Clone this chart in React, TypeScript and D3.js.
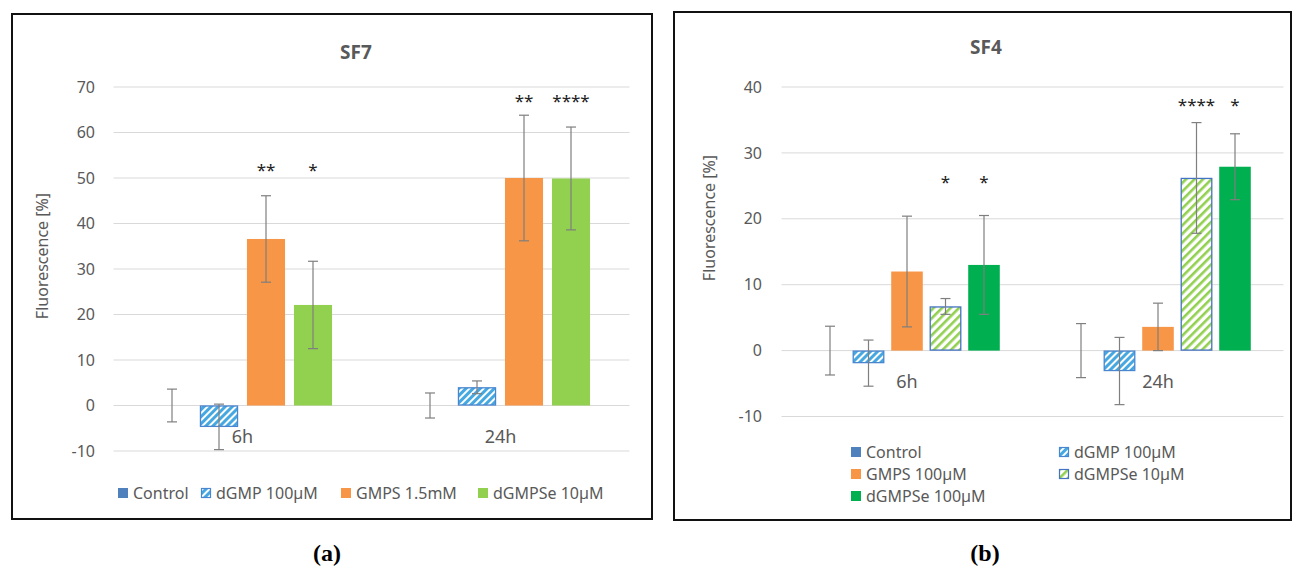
import React from "react";
import * as d3 from "d3";

const categories = ["6h", "24h"];

// SF7 panel
const sf7Series = ["Control", "dGMP 100µM", "GMPS 1.5mM", "dGMPSe 10µM"];
const sf7Control = [0, 0];
const sf7ControlErr = [3.6, 2.75];
const sf7Dgmp = [-4.7, 4.0];
const sf7DgmpErr = [5.0, 1.4];
const sf7Gmps = [36.6, 50.0];
const sf7GmpsErr = [9.5, 13.8];
const sf7Dgmpse = [22.1, 49.9];
const sf7DgmpseErr = [9.6, 11.3];
const sf7Stars = [
  ["", "", "**", "*"],
  ["", "", "**", "****"],
];
const sf7StarLevel = [52.7, 67.9];
const sf7Ticks = [-10, 0, 10, 20, 30, 40, 50, 60, 70];

// SF4 panel
const sf4Series = ["Control", "dGMP 100µM", "GMPS 100µM", "dGMPSe 10µM", "dGMPSe 100µM"];
const sf4Control = [0, 0];
const sf4ControlErr = [3.7, 4.1];
const sf4Dgmp = [-1.9, -3.1];
const sf4DgmpErr = [3.5, 5.1];
const sf4Gmps = [12.0, 3.6];
const sf4GmpsErr = [8.4, 3.6];
const sf4Dgmpse10 = [6.7, 26.2];
const sf4Dgmpse10Err = [1.2, 8.4];
const sf4Dgmpse100 = [13.0, 27.9];
const sf4Dgmpse100Err = [7.5, 5.0];
const sf4Stars = [
  ["", "", "", "*", "*"],
  ["", "", "", "****", "*"],
];
const sf4StarLevel = [26.2, 37.8];
const sf4Ticks = [-10, 0, 10, 20, 30, 40];

const FONT = "'Noto Sans', sans-serif";
const GREY = "#595959";

type Style = { fill: string; stroke?: string };

const STYLE: Record<string, Style> = {
  control: { fill: "#4F81BD" },
  dgmp: { fill: "url(#hatchBlue)", stroke: "#4A86D0" },
  gmps: { fill: "#F79646" },
  dgmpseLight: { fill: "#92D050" },
  dgmpse10: { fill: "url(#hatchGreen)", stroke: "#4472C4" },
  dgmpse100: { fill: "#00B050" },
};

type PanelProps = {
  title: string;
  titleX: number;
  titleY: number;
  series: string[];
  styles: Style[];
  values: number[][];
  errors: number[][];
  stars: string[][];
  starLevel: number[];
  ticks: number[];
  yDomain: [number, number];
  yRange: [number, number];
  xRange: [number, number];
  groupWidth: number;
  padInner: number;
  tickX: number;
  labelX: number;
  labelY: number;
  legend: { x: number; y: number }[];
};

function Panel(p: PanelProps) {
  const y = d3.scaleLinear().domain(p.yDomain).range(p.yRange);
  const x0 = d3.scaleBand<string>().domain(categories).range(p.xRange).padding(0);
  const off = (x0.bandwidth() - p.groupWidth) / 2;
  const x1 = d3
    .scaleBand<string>()
    .domain(p.series)
    .range([off, off + p.groupWidth])
    .paddingInner(p.padInner)
    .paddingOuter(p.padInner / 2);
  const bw = x1.bandwidth();
  const y0 = y(0);
  const [gx0, gx1] = p.xRange;
  return (
    <g>
      <text x={p.titleX} y={p.titleY} textAnchor="middle" fontFamily={FONT} fontWeight="bold" fontSize={19} fill={GREY}>
        {p.title}
      </text>
      {p.ticks.map((t) => (
        <g key={t}>
          <line x1={gx0} x2={gx1} y1={y(t)} y2={y(t)} stroke="#d9d9d9" strokeWidth={1} />
          <text x={p.tickX} y={y(t)} dy="0.35em" textAnchor="end" fontFamily={FONT} fontSize={16} fill={GREY}>
            {t}
          </text>
        </g>
      ))}
      <text
        transform={`translate(${p.labelX},${p.labelY}) rotate(-90)`}
        textAnchor="middle"
        fontFamily={FONT}
        fontSize={16}
        fill={GREY}
      >
        Fluorescence [%]
      </text>
      {categories.map((c, ci) => (
        <g key={c} transform={`translate(${x0(c)},0)`}>
          {p.series.map((s, si) => {
            const v = p.values[si][ci];
            const e = p.errors[si][ci];
            const st = p.styles[si];
            const bx = x1(s)!;
            const cx = bx + bw / 2;
            const top = Math.min(y(v), y0);
            const h = Math.abs(y(v) - y0);
            return (
              <g key={s}>
                {h > 0 && (
                  <rect
                    x={bx + (st.stroke ? 0.5 : 0)}
                    y={top + (st.stroke ? 0.5 : 0)}
                    width={bw - (st.stroke ? 1 : 0)}
                    height={Math.max(0, h - (st.stroke ? 1 : 0))}
                    fill={st.fill}
                    stroke={st.stroke || "none"}
                    strokeWidth={st.stroke ? 1.3 : 0}
                  />
                )}
                <line x1={cx} x2={cx} y1={y(v + e)} y2={y(v - e)} stroke="#7f7f7f" strokeWidth={1.2} />
                <line x1={cx - 5} x2={cx + 5} y1={y(v + e)} y2={y(v + e)} stroke="#7f7f7f" strokeWidth={1.2} />
                <line x1={cx - 5} x2={cx + 5} y1={y(v - e)} y2={y(v - e)} stroke="#7f7f7f" strokeWidth={1.2} />
                {p.stars[ci][si] && (
                  <text x={cx} y={y(p.starLevel[ci]) + 10} textAnchor="middle" fontFamily={FONT} fontSize={17} fill="#222">
                    {p.stars[ci][si]}
                  </text>
                )}
              </g>
            );
          })}
          <text
            x={x0.bandwidth() / 2}
            y={y0 + 37}
            textAnchor="middle"
            fontFamily={FONT}
            fontSize={18}
            fill={GREY}
          >
            {c}
          </text>
        </g>
      ))}
      {p.series.map((s, si) => {
        const L = p.legend[si];
        const st = p.styles[si];
        return (
          <g key={s}>
            <rect
              x={L.x + (st.stroke ? 0.5 : 0)}
              y={L.y - 5 + (st.stroke ? 0.5 : 0)}
              width={st.stroke ? 9 : 10}
              height={st.stroke ? 9 : 10}
              fill={st.fill}
              stroke={st.stroke || "none"}
              strokeWidth={st.stroke ? 1.2 : 0}
            />
            <text x={L.x + 15} y={L.y} dy="0.35em" fontFamily={FONT} fontSize={16} fill={GREY}>
              {s}
            </text>
          </g>
        );
      })}
    </g>
  );
}

export default function App() {
  return (
    <svg width={1293} height={569} style={{ position: "absolute", left: 0, top: 0, background: "white" }}>
      <defs>
        <pattern id="hatchBlue" patternUnits="userSpaceOnUse" width={5} height={5} patternTransform="rotate(45)">
          <rect width={5} height={5} fill="white" />
          <rect width={3} height={5} fill="#45A8E0" />
        </pattern>
        <pattern id="hatchGreen" patternUnits="userSpaceOnUse" width={6} height={6} patternTransform="rotate(45)">
          <rect width={6} height={6} fill="white" />
          <rect width={2.6} height={6} fill="#92D050" />
        </pattern>
      </defs>
      <rect x={12} y={14} width={640} height={505} fill="white" stroke="#111" strokeWidth={2} />
      <rect x={674} y={12} width={617} height={508} fill="white" stroke="#111" strokeWidth={2} />

      <Panel
        title="SF7"
        titleX={356}
        titleY={59}
        series={sf7Series}
        styles={[STYLE.control, STYLE.dgmp, STYLE.gmps, STYLE.dgmpseLight]}
        values={[sf7Control, sf7Dgmp, sf7Gmps, sf7Dgmpse]}
        errors={[sf7ControlErr, sf7DgmpErr, sf7GmpsErr, sf7DgmpseErr]}
        stars={sf7Stars}
        starLevel={sf7StarLevel}
        ticks={sf7Ticks}
        yDomain={[-10, 70]}
        yRange={[451, 87]}
        xRange={[113.5, 629.5]}
        groupWidth={188}
        padInner={0.19}
        tickX={95}
        labelX={48}
        labelY={256}
        legend={[
          { x: 118, y: 493 },
          { x: 201, y: 493 },
          { x: 341, y: 493 },
          { x: 478, y: 493 },
        ]}
      />
      <Panel
        title="SF4"
        titleX={986}
        titleY={54}
        series={sf4Series}
        styles={[STYLE.control, STYLE.dgmp, STYLE.gmps, STYLE.dgmpse10, STYLE.dgmpse100]}
        values={[sf4Control, sf4Dgmp, sf4Gmps, sf4Dgmpse10, sf4Dgmpse100]}
        errors={[sf4ControlErr, sf4DgmpErr, sf4GmpsErr, sf4Dgmpse10Err, sf4Dgmpse100Err]}
        stars={sf4Stars}
        starLevel={sf4StarLevel}
        ticks={sf4Ticks}
        yDomain={[-10, 40]}
        yRange={[416.5, 87]}
        xRange={[781.5, 1283.5]}
        groupWidth={192.5}
        padInner={0.18}
        tickX={762}
        labelX={715}
        labelY={218}
        legend={[
          { x: 851, y: 452 },
          { x: 1059, y: 452 },
          { x: 851, y: 474 },
          { x: 1059, y: 474 },
          { x: 851, y: 496 },
        ]}
      />
      <text x={327} y={561} textAnchor="middle" fontFamily="'Liberation Serif', serif" fontWeight="bold" fontSize={24} fill="#000">
        (a)
      </text>
      <text x={985} y={561} textAnchor="middle" fontFamily="'Liberation Serif', serif" fontWeight="bold" fontSize={24} fill="#000">
        (b)
      </text>
    </svg>
  );
}
